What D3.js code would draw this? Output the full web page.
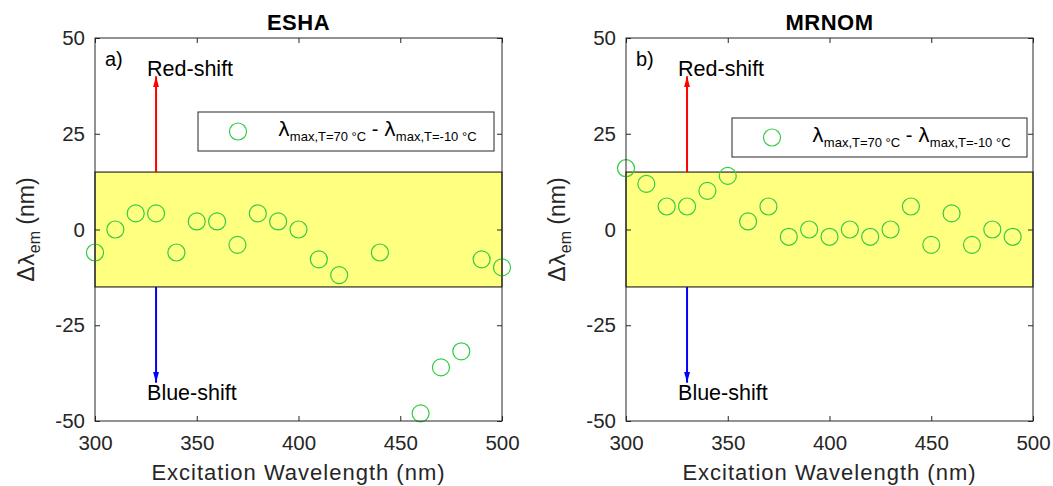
<!DOCTYPE html>
<html><head><meta charset="utf-8">
<script src="https://cdn.jsdelivr.net/npm/d3@7"></script>
<style>body{margin:0;background:#fff}svg{display:block}text{font-family:"Liberation Sans",Arial,sans-serif}</style>
</head><body><svg id="c" width="1053" height="486"></svg>
<script>
const wavelengthsA = [300,310,320,330,340,350,360,370,380,390,400,410,420,440,460,470,480,490,500];
const shiftA = [-6,0,4.2,4.2,-6,2.1,2.1,-4,4.2,2.1,0,-7.8,-11.9,-6,-48,-36,-31.8,-7.8,-9.9];
const wavelengthsB = [300,310,320,330,340,350,360,370,380,390,400,410,420,430,440,450,460,470,480,490];
const shiftB = [16,11.9,6,6,10.1,14,2.1,6,-1.9,0,-1.9,0,-1.9,0,6,-4,4.2,-4,0,-1.9];
const xTicks = [300,350,400,450,500];
const yTicks = [-50,-25,0,25,50];
const titles = ["ESHA","MRNOM"];
const panelLabels = ["a)","b)"];
const bandRange = [-15,15];
const arrowX = 330;
const arrowTips = [40,-40];

const svg = d3.select("#c");
const ink = "#262626";
const green = "#33cc44";
const panels = [
  {x0:95, x1:502, xs:wavelengthsA, ys:shiftA, title:titles[0], lab:panelLabels[0], ylabX:34, leg:[198,112,296,39]},
  {x0:626, x1:1033, xs:wavelengthsB, ys:shiftB, title:titles[1], lab:panelLabels[1], ylabX:565, leg:[732,118,295,39]}
];
const plotTop = 38, plotBottom = 421;
const defs = svg.append("defs");
[["red","#ff0000"],["blue","#0000ff"]].forEach(([id,c])=>{
  defs.append("marker").attr("id","ah-"+id).attr("viewBox","0 0 11 6").attr("refX",11).attr("refY",3)
    .attr("markerWidth",11).attr("markerHeight",6).attr("markerUnits","userSpaceOnUse").attr("orient","auto")
    .append("path").attr("d","M0,0 L11,3 L0,6 Z").attr("fill",c);
});

panels.forEach(p=>{
  const x = d3.scaleLinear().domain([300,500]).range([p.x0,p.x1]);
  const y = d3.scaleLinear().domain([-50,50]).range([plotBottom,plotTop]);
  const g = svg.append("g");
  g.append("rect").attr("x",x(300)).attr("width",x(500)-x(300))
    .attr("y",y(bandRange[1])).attr("height",y(bandRange[0])-y(bandRange[1]))
    .attr("fill","#ffff80").attr("stroke","#000").attr("stroke-width",1);
  g.append("line").attr("x1",x(arrowX)).attr("x2",x(arrowX)).attr("y1",y(bandRange[1])).attr("y2",y(arrowTips[0]))
    .attr("stroke","#ff0000").attr("stroke-width",2).attr("marker-end","url(#ah-red)");
  g.append("line").attr("x1",x(arrowX)).attr("x2",x(arrowX)).attr("y1",y(bandRange[0])).attr("y2",y(arrowTips[1]))
    .attr("stroke","#0000ff").attr("stroke-width",2).attr("marker-end","url(#ah-blue)");
  g.append("text").attr("x",x(arrowX)-9).attr("y",y(arrowTips[0])).attr("font-size",21.5).attr("fill","#000").text("Red-shift");
  g.append("text").attr("x",x(arrowX)-9).attr("y",y(arrowTips[1])+17).attr("font-size",21.5).attr("fill","#000").text("Blue-shift");
  g.append("text").attr("x",p.x0+10).attr("y",plotTop+28).attr("font-size",20).attr("fill","#000").text(p.lab);
  g.selectAll("circle.pt").data(p.xs.map((v,i)=>[v,p.ys[i]])).enter().append("circle")
    .attr("cx",d=>x(d[0])).attr("cy",d=>y(d[1])).attr("r",8.5)
    .attr("fill","none").attr("stroke",green).attr("stroke-width",1.2);
  const ax = (gen,tr)=>{const a=g.append("g").attr("transform",tr).call(gen);
    a.select(".domain").remove(); a.selectAll("line").attr("stroke",ink);
    a.selectAll("text").attr("font-size",20.5).attr("fill",ink).attr("font-family","Liberation Sans, Arial, sans-serif"); return a;};
  ax(d3.axisBottom(x).tickValues(xTicks).tickSizeInner(-5).tickSizeOuter(0).tickPadding(14).tickFormat(d=>String(d)), `translate(0,${plotBottom})`);
  ax(d3.axisTop(x).tickValues(xTicks).tickSizeInner(-5).tickSizeOuter(0).tickFormat(""), `translate(0,${plotTop})`);
  ax(d3.axisLeft(y).tickValues(yTicks).tickSizeInner(-5).tickSizeOuter(0).tickPadding(10).tickFormat(d=>String(d)), `translate(${p.x0},0)`);
  ax(d3.axisRight(y).tickValues(yTicks).tickSizeInner(-5).tickSizeOuter(0).tickFormat(""), `translate(${p.x1},0)`);
  g.append("rect").attr("x",p.x0).attr("y",plotTop).attr("width",p.x1-p.x0).attr("height",plotBottom-plotTop)
    .attr("fill","none").attr("stroke",ink).attr("stroke-width",1);
  g.append("text").attr("x",(p.x0+p.x1)/2).attr("y",plotTop-8).attr("text-anchor","middle")
    .attr("font-size",22).attr("font-weight","bold").attr("letter-spacing",0.5).attr("fill","#000").text(p.title);
  g.append("text").attr("x",(p.x0+p.x1)/2).attr("y",480).attr("text-anchor","middle")
    .attr("font-size",22).attr("letter-spacing",1).attr("fill",ink).text("Excitation Wavelength (nm)");
  const yl = g.append("text").attr("transform",`translate(${p.ylabX},${(plotTop+plotBottom)/2}) rotate(-90)`)
    .attr("text-anchor","middle").attr("font-size",23).attr("fill",ink);
  yl.append("tspan").text("Δ");
  yl.append("tspan").attr("font-family","DejaVu Sans").attr("font-size",22).text("λ");
  yl.append("tspan").attr("font-size",16).attr("dy",6).text("em");
  yl.append("tspan").attr("dy",-6).text(" (nm)");
  const [lx,ly,lw,lh] = p.leg;
  g.append("rect").attr("x",lx).attr("y",ly).attr("width",lw).attr("height",lh).attr("fill","#fff").attr("stroke",ink).attr("stroke-width",1);
  g.append("circle").attr("cx",lx+40).attr("cy",ly+lh/2).attr("r",8.5).attr("fill","none").attr("stroke",green).attr("stroke-width",1.2);
  const lt = g.append("text").attr("x",lx+80).attr("y",ly+24).attr("font-size",20).attr("fill","#000");
  lt.append("tspan").attr("font-family","DejaVu Sans").attr("font-size",20).text("λ");
  lt.append("tspan").attr("font-size",13).attr("dy",5).text("max,T=70 °C");
  lt.append("tspan").attr("dy",-5).text(" - ");
  lt.append("tspan").attr("font-family","DejaVu Sans").attr("font-size",20).text("λ");
  lt.append("tspan").attr("font-size",13).attr("dy",5).text("max,T=-10 °C");
});
</script></body></html>
